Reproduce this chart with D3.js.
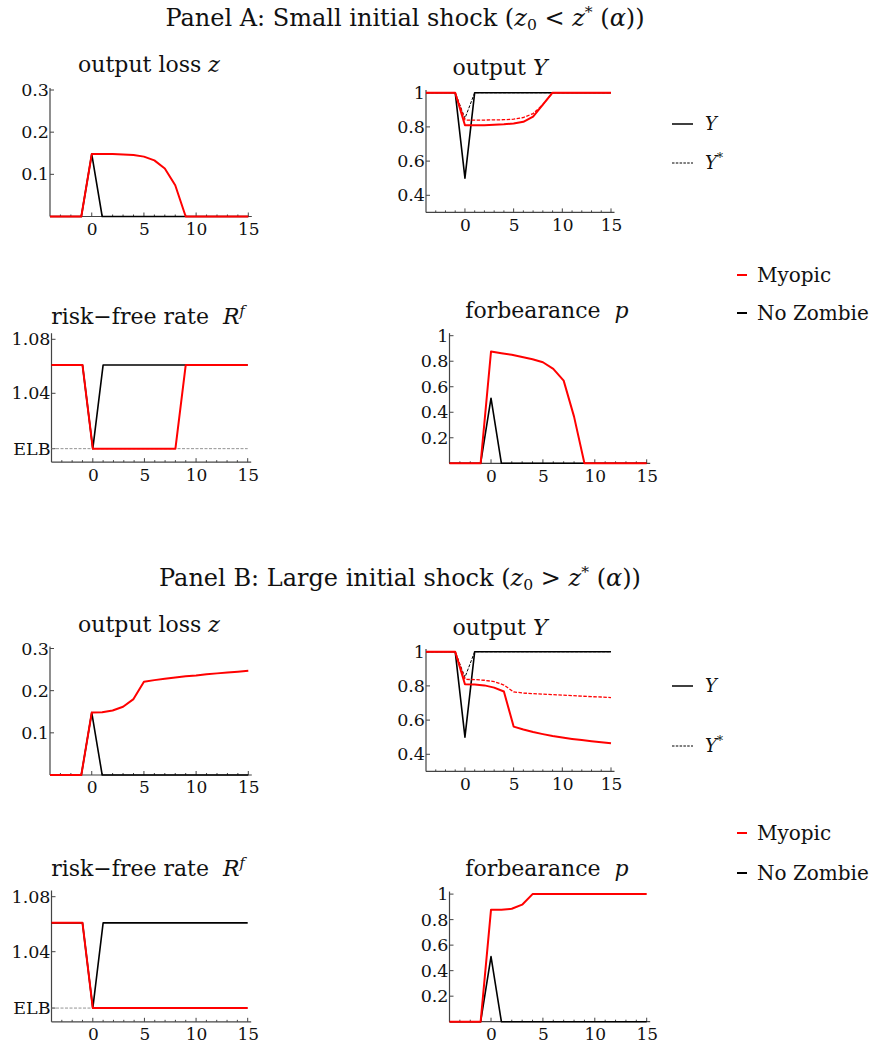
<!DOCTYPE html>
<html><head><meta charset="utf-8">
<script src="https://cdn.jsdelivr.net/npm/d3@7"></script>
<style>
body{margin:0;background:#fff;}
text{font-family:"DejaVu Serif",serif;fill:#111;white-space:pre;}
</style></head>
<body><svg id="c" width="869" height="1046"></svg>
<script>
// ---------- DATA ----------
const t = [-4,-3,-2,-1,0,1,2,3,4,5,6,7,8,9,10,11,12,13,14,15];
const ELB = 0.999;
const RHI = 1.061;

// Panel A: small shock
const zA_myopic   = [0,0,0,0,0.148,0.148,0.148,0.147,0.146,0.142,0.133,0.114,0.074,0,0,0,0,0,0,0];
const zA_nozombie = [0,0,0,0,0.148,0,0,0,0,0,0,0,0,0,0,0,0,0,0,0];
const YA_myopic     = [1,1,1,1,0.81,0.81,0.81,0.812,0.815,0.82,0.83,0.86,0.93,1,1,1,1,1,1,1];
const YstarA_myopic = [1,1,1,1,0.84,0.84,0.84,0.841,0.842,0.845,0.855,0.878,0.93,1,1,1,1,1,1,1];
const YA_nozombie     = [1,1,1,1,0.5,1,1,1,1,1,1,1,1,1,1,1,1,1,1,1];
const YstarA_nozombie = [1,1,1,1,0.85,1,1,1,1,1,1,1,1,1,1,1,1,1,1,1];
const RfA_myopic   = [RHI,RHI,RHI,RHI,ELB,ELB,ELB,ELB,ELB,ELB,ELB,ELB,ELB,RHI,RHI,RHI,RHI,RHI,RHI,RHI];
const RfA_nozombie = [RHI,RHI,RHI,RHI,ELB,RHI,RHI,RHI,RHI,RHI,RHI,RHI,RHI,RHI,RHI,RHI,RHI,RHI,RHI,RHI];
const pA_myopic   = [0,0,0,0,0.876,0.863,0.85,0.833,0.816,0.792,0.74,0.648,0.366,0,0,0,0,0,0,0];
const pA_nozombie = [0,0,0,0,0.51,0,0,0,0,0,0,0,0,0,0,0,0,0,0,0];

// Panel B: large shock
const zB_myopic   = [0,0,0,0,0.148,0.149,0.153,0.162,0.18,0.221,0.225,0.228,0.231,0.234,0.236,0.239,0.241,0.243,0.245,0.247];
const zB_nozombie = [0,0,0,0,0.148,0,0,0,0,0,0,0,0,0,0,0,0,0,0,0];
const YB_myopic     = [1,1,1,1,0.81,0.808,0.803,0.79,0.767,0.562,0.545,0.53,0.518,0.507,0.498,0.49,0.483,0.476,0.47,0.464];
const YstarB_myopic = [1,1,1,1,0.838,0.837,0.833,0.825,0.805,0.765,0.758,0.755,0.752,0.749,0.746,0.743,0.74,0.737,0.735,0.732];
const YB_nozombie     = [1,1,1,1,0.5,1,1,1,1,1,1,1,1,1,1,1,1,1,1,1];
const YstarB_nozombie = [1,1,1,1,0.85,1,1,1,1,1,1,1,1,1,1,1,1,1,1,1];
const RfB_myopic   = [RHI,RHI,RHI,RHI,ELB,ELB,ELB,ELB,ELB,ELB,ELB,ELB,ELB,ELB,ELB,ELB,ELB,ELB,ELB,ELB];
const RfB_nozombie = [RHI,RHI,RHI,RHI,ELB,RHI,RHI,RHI,RHI,RHI,RHI,RHI,RHI,RHI,RHI,RHI,RHI,RHI,RHI,RHI];
const pB_myopic   = [0,0,0,0,0.878,0.877,0.885,0.917,1,1,1,1,1,1,1,1,1,1,1,1];
const pB_nozombie = [0,0,0,0,0.51,0,0,0,0,0,0,0,0,0,0,0,0,0,0,0];

const xTicksMajor = [0,5,10,15];
const zTicks = [0.1,0.2,0.3], zTickLabels = ["0.1","0.2","0.3"];
const YTicks = [0.4,0.6,0.8,1], YTickLabels = ["0.4","0.6","0.8","1"];
const RfTicks = [ELB,1.04,1.08], RfTickLabels = ["ELB","1.04","1.08"];
const pTicks = [0.2,0.4,0.6,0.8,1], pTickLabels = ["0.2","0.4","0.6","0.8","1"];

const legendSeries = ["Myopic","No Zombie"];
const legendLines = ["Y","Y*"];

// ---------- DRAW ----------
const RED = "#ff0000", BLK = "#000";
const svg = d3.select("#c");

function addTitle(g, x, y, parts, size){
  const tx = g.append("text").attr("x",x).attr("y",y).attr("text-anchor","middle").attr("xml:space","preserve").style("font-size",size+"px");
  parts.forEach(p=>{
    const s = tx.append("tspan").text(p.t);
    if(p.i) s.style("font-style","italic");
    if(p.sup) s.attr("baseline-shift","super").style("font-size",(size*0.65)+"px");
    if(p.sub) s.attr("baseline-shift","-25%").style("font-size",(size*0.65)+"px");
  });
}

function panel(cfg){
  const g = svg.append("g");
  const x = d3.scaleLinear().domain([-4,15]).range([cfg.x0,cfg.x15]);
  const y = d3.scaleLinear().domain([cfg.v1,cfg.v2]).range([cfg.p1,cfg.p2]);
  const yb = y(cfg.ymin), yt = y(cfg.ymax);
  const axc = "#444";
  g.append("line").attr("x1",x(-4)).attr("x2",x(15)+3.5).attr("y1",yb).attr("y2",yb).attr("stroke",axc).attr("stroke-width",1.2);
  g.append("line").attr("x1",x(-4)).attr("x2",x(-4)).attr("y1",yb).attr("y2",yt).attr("stroke",axc).attr("stroke-width",1.2);
  const xaxis = d3.axisBottom(x).tickValues(xTicksMajor).tickSize(0).tickPadding(4).tickFormat(d3.format("d"));
  const xg = g.append("g").attr("transform",`translate(0,${yb})`).call(xaxis);
  xg.select(".domain").remove();
  xg.selectAll("text").style("font-size","17px").attr("font-family",null).attr("fill","#111").attr("dy","0.85em");
  d3.range(-3,16).forEach(v=>{
    const major = xTicksMajor.includes(v);
    g.append("line").attr("x1",x(v)).attr("x2",x(v)).attr("y1",yb).attr("y2",yb-(major?4:2)).attr("stroke",axc).attr("stroke-width",1);
  });
  const yaxis = d3.axisLeft(y).tickValues(cfg.yticks).tickSize(0).tickPadding(1).tickFormat((d,i)=>cfg.ylabels[i]);
  const yg = g.append("g").attr("transform",`translate(${x(-4)},0)`).call(yaxis);
  yg.select(".domain").remove();
  yg.selectAll("text").style("font-size","17.5px").attr("font-family",null).attr("fill","#111");
  cfg.yticks.forEach(v=>{
    g.append("line").attr("x1",x(-4)).attr("x2",x(-4)+4).attr("y1",y(v)).attr("y2",y(v)).attr("stroke",axc).attr("stroke-width",1);
  });
  if(cfg.elb){
    g.append("line").attr("x1",x(-4)).attr("x2",x(15)).attr("y1",y(ELB)).attr("y2",y(ELB))
      .attr("stroke","#888").attr("stroke-width",0.9).attr("stroke-dasharray","3,1.5");
  }
  const line = d3.line().x((d,i)=>x(t[i])).y(d=>y(d));
  (cfg.series||[]).forEach(s=>{
    g.append("path").attr("d",line(s.data)).attr("fill","none").attr("stroke",s.color)
      .attr("stroke-width",s.w).attr("stroke-dasharray",s.dash||null).attr("stroke-linejoin","round");
  });
  addTitle(g, cfg.tx, cfg.ty, cfg.title, 22);
}

function block(offY, D, rfBot, titleYs){
  panel({x0:50,x15:248.3,v1:0,p1:216.5+offY.z,v2:0.3,p2:90+offY.z,ymin:0,ymax:0.305,
    yticks:zTicks,ylabels:zTickLabels,tx:149,ty:titleYs[0],
    title:[{t:"output loss "},{t:"z",i:1}],
    series:[{data:D.zN,color:BLK,w:1.6},{data:D.zM,color:RED,w:2}]});
  panel({x0:426,x15:611,v1:1,p1:92.7+offY.Y,v2:0.4,p2:195.3+offY.Y,ymin:0.3,ymax:1.016,
    yticks:YTicks,ylabels:YTickLabels,tx:500,ty:titleYs[1],
    title:[{t:"output "},{t:"Y",i:1}],
    series:[{data:D.YsN,color:BLK,w:1,dash:"3,1.5"},{data:D.YN,color:BLK,w:1.6},
            {data:D.YsM,color:RED,w:1.3,dash:"3.5,1.5"},{data:D.YM,color:RED,w:2}]});
  panel({x0:51.5,x15:247.7,v1:1.08,p1:rfBot.p108,v2:1.04,p2:rfBot.p104,ymin:0.989,ymax:1.0845,
    yticks:RfTicks,ylabels:RfTickLabels,tx:148,ty:titleYs[2],elb:true,
    title:[{t:"risk\u2212free rate  "},{t:"R",i:1},{t:"f",i:1,sup:1}],
    series:[{data:D.RN,color:BLK,w:1.6},{data:D.RM,color:RED,w:2}]});
  panel({x0:449.5,x15:646.7,v1:0,p1:463.3+offY.p,v2:1,p2:335.7+offY.p,ymin:0,ymax:1.02,
    yticks:pTicks,ylabels:pTickLabels,tx:547,ty:titleYs[3],
    title:[{t:"forbearance  "},{t:"p",i:1}],
    series:[{data:D.pN,color:BLK,w:1.6},{data:D.pM,color:RED,w:2}]});
}

block({z:0,Y:0,p:0},
  {zN:zA_nozombie,zM:zA_myopic,YN:YA_nozombie,YsN:YstarA_nozombie,YM:YA_myopic,YsM:YstarA_myopic,
   RN:RfA_nozombie,RM:RfA_myopic,pN:pA_nozombie,pM:pA_myopic},
  {p108:339.3,p104:393.3},[72,75,324,318]);
block({z:558.5,Y:559,p:558.4},
  {zN:zB_nozombie,zM:zB_myopic,YN:YB_nozombie,YsN:YstarB_nozombie,YM:YB_myopic,YsM:YstarB_myopic,
   RN:RfB_nozombie,RM:RfB_myopic,pN:pB_nozombie,pM:pB_myopic},
  {p108:896.7,p104:951.7},[632,635,876,876]);

addTitle(svg, 405, 26, [{t:"Panel A: Small initial shock ("},{t:"z",i:1},{t:"0",sub:1},{t:" < "},{t:"z",i:1},{t:"*",sup:1},{t:" ("},{t:"\u03B1",i:1},{t:"))"}], 24);
addTitle(svg, 400, 586, [{t:"Panel B: Large initial shock ("},{t:"z",i:1},{t:"0",sub:1},{t:" > "},{t:"z",i:1},{t:"*",sup:1},{t:" ("},{t:"\u03B1",i:1},{t:"))"}], 24);

function legend(yY, yYs, yM, yN){
  const g = svg.append("g");
  g.append("line").attr("x1",672).attr("x2",693).attr("y1",yY).attr("y2",yY).attr("stroke",BLK).attr("stroke-width",1.5);
  g.append("text").attr("x",705).attr("y",yY).attr("dy","0.35em").style("font-size","18px").style("font-style","italic").text(legendLines[0]);
  g.append("line").attr("x1",672).attr("x2",693).attr("y1",yYs).attr("y2",yYs).attr("stroke",BLK).attr("stroke-width",1).attr("stroke-dasharray","2.5,1.3");
  const ts = g.append("text").attr("x",705).attr("y",yYs).attr("dy","0.35em").style("font-size","18px");
  ts.append("tspan").style("font-style","italic").text("Y");
  ts.append("tspan").attr("baseline-shift","super").style("font-size","12px").text("*");
  [[yM,RED,legendSeries[0]],[yN,BLK,legendSeries[1]]].forEach(([yy,c,lab])=>{
    g.append("line").attr("x1",737).attr("x2",747).attr("y1",yy).attr("y2",yy).attr("stroke",c).attr("stroke-width",2);
    g.append("text").attr("x",757).attr("y",yy).attr("dy","0.35em").style("font-size","20px").text(lab);
  });
}
legend(124,163,275,313);
legend(686,746,833,873);
</script></body></html>
